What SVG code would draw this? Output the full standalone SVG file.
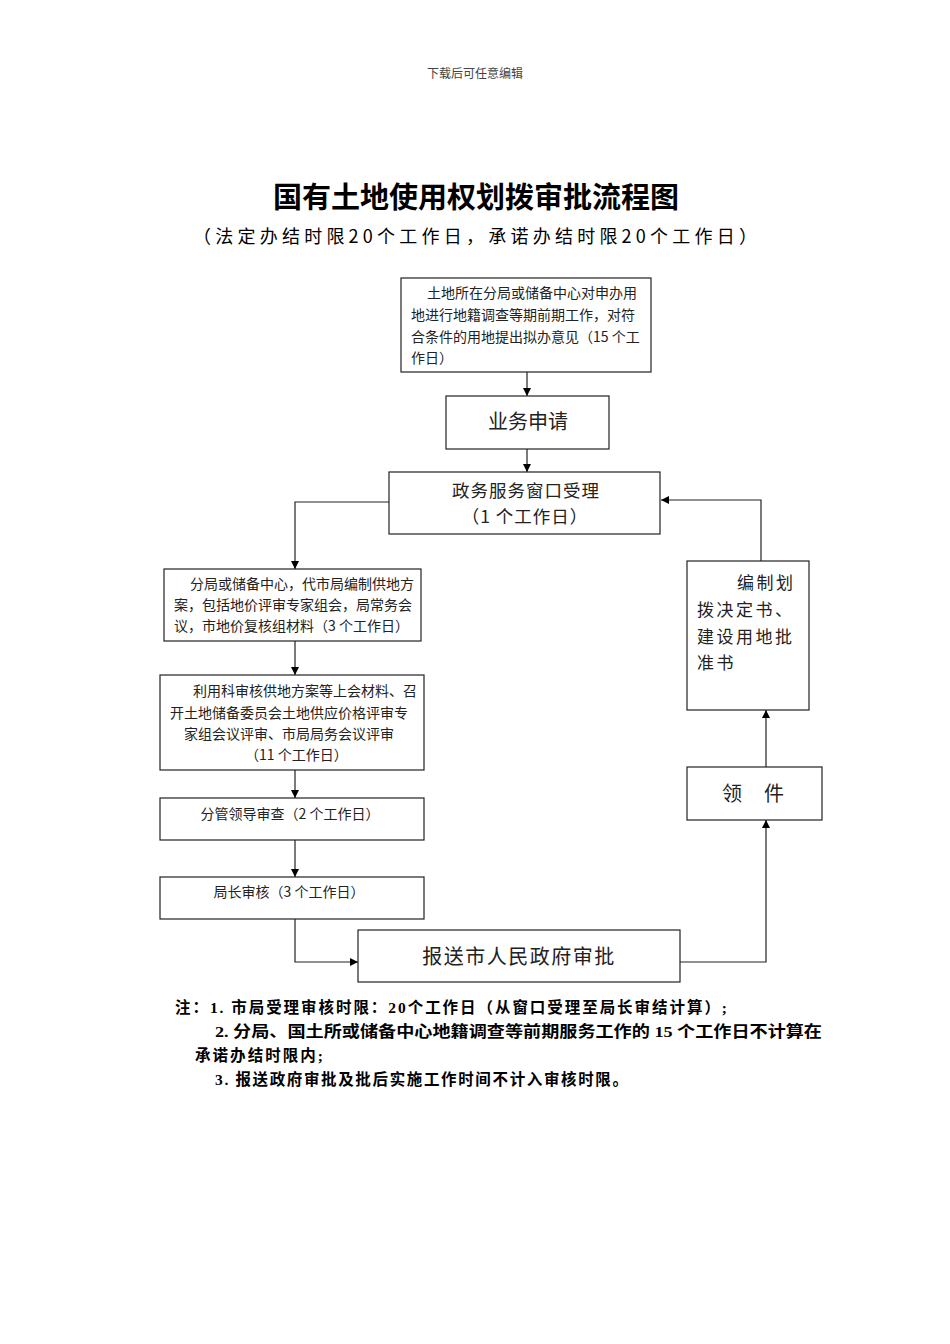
<svg xmlns="http://www.w3.org/2000/svg" width="950" height="1344" viewBox="0 0 950 1344">
<style>
.box{fill:#fff;stroke:#222;stroke-width:1.2}
.t{font-family:"Noto Sans CJK SC",sans-serif;fill:#222}
.s14{font-size:14px}
.conn{fill:none;stroke:#222;stroke-width:1.2}
.note{font-family:"Liberation Serif","Noto Sans CJK SC",serif;font-size:15.5px;font-weight:bold;fill:#000}
</style>
<defs>
<marker id="arr" viewBox="0 0 10 10" refX="10" refY="5" markerWidth="8" markerHeight="8" markerUnits="userSpaceOnUse" orient="auto">
<path d="M0,0 L10,5 L0,10 z" fill="#000"/>
</marker>
</defs>
<rect width="950" height="1344" fill="#fff"/>
<text x="475" y="78" text-anchor="middle" font-family="Noto Sans CJK SC,serif" font-size="12" fill="#444">下载后可任意编辑</text>
<text x="476" y="208" text-anchor="middle" font-family="Noto Sans CJK SC,sans-serif" font-size="29" font-weight="bold" fill="#000">国有土地使用权划拨审批流程图</text>
<text x="193" y="243" textLength="564" lengthAdjust="spacing" font-family="Noto Sans CJK SC,sans-serif" font-size="18" fill="#000">（法定办结时限20个工作日，承诺办结时限20个工作日）</text>

<g id="connectors">
<line class="conn" x1="527" y1="372" x2="527" y2="396" marker-end="url(#arr)"/>
<line class="conn" x1="527" y1="449" x2="527" y2="472" marker-end="url(#arr)"/>
<polyline class="conn" points="389,502 295,502 295,569" marker-end="url(#arr)"/>
<line class="conn" x1="295" y1="641" x2="295" y2="675" marker-end="url(#arr)"/>
<line class="conn" x1="295" y1="770" x2="295" y2="798" marker-end="url(#arr)"/>
<line class="conn" x1="295" y1="840" x2="295" y2="877" marker-end="url(#arr)"/>
<polyline class="conn" points="295,919 295,962 358,962" marker-end="url(#arr)"/>
<polyline class="conn" points="680,962 766,962 766,820" marker-end="url(#arr)"/>
<line class="conn" x1="766" y1="767" x2="766" y2="710" marker-end="url(#arr)"/>
<polyline class="conn" points="761,561 761,500 661,500" marker-end="url(#arr)"/>
</g>

<g id="n1">
<rect class="box" x="401" y="278" width="250" height="94"/>
<text class="t s14"><tspan x="427" y="298">土地所在分局或储备中心对申办用</tspan><tspan x="411" y="320">地进行地籍调查等期前期工作，对符</tspan><tspan x="411" y="342">合条件的用地提出拟办意见（15 个工</tspan><tspan x="411" y="363">作日）</tspan></text>
</g>
<g id="n2">
<rect class="box" x="446" y="396" width="163" height="53"/>
<text class="t" x="528" y="429" font-size="20" text-anchor="middle">业务申请</text>
</g>
<g id="n3">
<rect class="box" x="389" y="472" width="271" height="62"/>
<text class="t" font-size="17.5" text-anchor="middle" letter-spacing="1"><tspan x="526" y="497">政务服务窗口受理</tspan><tspan x="525" y="523">（1 个工作日）</tspan></text>
</g>
<g id="n4">
<rect class="box" x="164" y="569" width="257" height="72"/>
<text class="t s14"><tspan x="190" y="589">分局或储备中心，代市局编制供地方</tspan><tspan x="174" y="610">案，包括地价评审专家组会，局常务会</tspan><tspan x="174" y="631">议，市地价复核组材料（3 个工作日）</tspan></text>
</g>
<g id="n5">
<rect class="box" x="160" y="675" width="264" height="95"/>
<text class="t s14"><tspan x="193" y="696">利用科审核供地方案等上会材料、召</tspan><tspan x="170" y="718">开土地储备委员会土地供应价格评审专</tspan><tspan x="184" y="739">家组会议评审、市局局务会议评审</tspan><tspan x="245" y="760">（11 个工作日）</tspan></text>
</g>
<g id="n6">
<rect class="box" x="160" y="798" width="264" height="42"/>
<text class="t s14" x="290" y="819" text-anchor="middle">分管领导审查（2 个工作日）</text>
</g>
<g id="n7">
<rect class="box" x="160" y="877" width="264" height="42"/>
<text class="t s14" x="289" y="897" text-anchor="middle">局长审核（3 个工作日）</text>
</g>
<g id="n8">
<rect class="box" x="358" y="930" width="322" height="52"/>
<text class="t" x="519" y="964" font-size="20" letter-spacing="1.5" text-anchor="middle">报送市人民政府审批</text>
</g>
<g id="n9">
<rect class="box" x="687" y="767" width="135" height="53"/>
<text class="t" font-size="20"><tspan x="722" y="801">领</tspan><tspan x="764" y="801">件</tspan></text>
</g>
<g id="n10">
<rect class="box" x="687" y="561" width="122" height="149"/>
<text class="t" font-size="17" letter-spacing="2.5"><tspan x="737" y="589">编制划</tspan><tspan x="697" y="616">拨决定书、</tspan><tspan x="697" y="643">建设用地批</tspan><tspan x="697" y="669">准书</tspan></text>
</g>

<g id="notes">
<text class="note" x="175" y="1013" textLength="552" lengthAdjust="spacing">注：1. 市局受理审核时限：20个工作日（从窗口受理至局长审结计算）;</text>
<text class="note" x="215" y="1037" textLength="607" lengthAdjust="spacingAndGlyphs">2. 分局、国土所或储备中心地籍调查等前期服务工作的 15 个工作日不计算在</text>
<text class="note" x="195" y="1061" textLength="128" lengthAdjust="spacing">承诺办结时限内;</text>
<text class="note" x="215" y="1085" textLength="413" lengthAdjust="spacing">3. 报送政府审批及批后实施工作时间不计入审核时限。</text>
</g>
</svg>
